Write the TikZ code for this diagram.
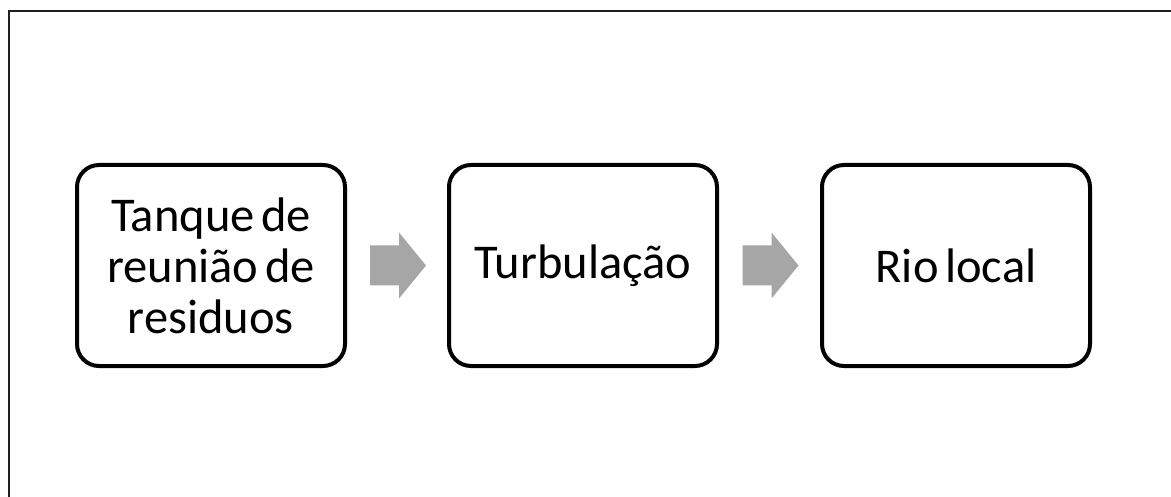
\documentclass[tikz,border=0pt]{standalone}
\usepackage{fontspec}
\setmainfont{Carlito}[WordSpace=0.6]
\usetikzlibrary{calc}
\definecolor{flowgrey}{HTML}{A6A6A6}
\definecolor{framegrey}{HTML}{202020}
\tikzset{
  stage/.style={draw=black, line width=4pt, rounded corners=22pt,
    minimum width=268pt, minimum height=201pt, inner sep=0pt,
    align=center, font=\fontsize{48.5}{51}\selectfont},
  flow/.style={fill=flowgrey, draw=none},
  frame/.style={draw=framegrey, line width=2pt}
}
\begin{document}
\begin{tikzpicture}[x=1pt,y=-1pt]
  \useasboundingbox (0,0) rectangle (1171,497);
  % slide frame (top and left edges)
  \coordinate (ftr) at (1171,11.5);
  \coordinate (ftl) at (8.5,11.5);
  \coordinate (fbl) at (8.5,497);
  \draw[frame] (ftr) -- (ftl) -- (fbl);
  % process stages
  \node[stage] (a) at (211,265.5) {Tanque de\\reunião de\\residuos};
  \node[stage] (b) at (583,265.5) {Turbulação};
  \node[stage] (c) at (956,265.5) {Rio local};
  % block arrows between stages
  \coordinate (m1) at ($(a.east)!0.5!(b.west)$);
  \coordinate (m2) at ($(b.east)!0.5!(c.west)$);
  \foreach \m in {m1,m2}{
    \fill[flow] ([shift={(-27,-20)}]\m) -- ++(29,0) -- ++(0,-13) -- ++(27,33)
      -- ++(-27,33) -- ++(0,-13) -- ++(-29,0) -- cycle;
  }
\end{tikzpicture}
\end{document}
